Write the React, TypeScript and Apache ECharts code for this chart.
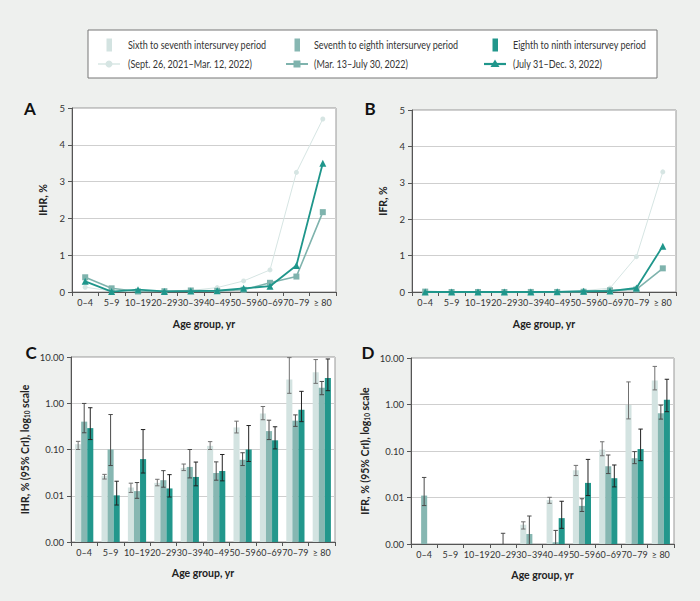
import React, { useEffect, useRef } from "react";
import * as echarts from "echarts";

const ageGroups = ["0–4", "5–9", "10–19", "20–29", "30–39", "40–49", "50–59", "60–69", "70–79", "≥ 80"];
const periodNames = [
  "Sixth to seventh intersurvey period",
  "Seventh to eighth intersurvey period",
  "Eighth to ninth intersurvey period",
];
const periodDates = [
  "(Sept. 26, 2021–Mar. 12, 2022)",
  "(Mar. 13–July 30, 2022)",
  "(July 31–Dec. 3, 2022)",
];
const linearTicks = [0, 1, 2, 3, 4, 5];
const logMin = 0.001;
const logMax = 10;

// IHR, % (point estimates and 95% CrI)
const ihr6 = [0.13, 0.027, 0.015, 0.019, 0.04, 0.12, 0.3, 0.6, 3.25, 4.7];
const ihr6Lo = [0.1, 0.023, 0.0118, 0.0164, 0.035, 0.1, 0.228, 0.44, 1.64, 2.69];
const ihr6Hi = [0.15, 0.029, 0.0187, 0.0227, 0.0485, 0.148, 0.41, 0.85, 9.7, 8.8];
const ihr7 = [0.4, 0.1, 0.0126, 0.0217, 0.042, 0.031, 0.06, 0.25, 0.42, 2.17];
const ihr7Lo = [0.23, 0.045, 0.0088, 0.0153, 0.0243, 0.0217, 0.045, 0.164, 0.316, 1.53];
const ihr7Hi = [0.99, 0.57, 0.0193, 0.0349, 0.1, 0.054, 0.085, 0.43, 0.56, 2.96];
const ihr8 = [0.29, 0.0102, 0.062, 0.0144, 0.0255, 0.0343, 0.1, 0.158, 0.72, 3.5];
const ihr8Lo = [0.164, 0.0063, 0.031, 0.0094, 0.0164, 0.021, 0.055, 0.103, 0.4, 1.87];
const ihr8Hi = [0.8, 0.0206, 0.27, 0.0286, 0.0535, 0.078, 0.33, 0.31, 1.81, 9.06];

// IFR, % (point estimates and 95% CrI); null = no estimate shown
const ifr6 = [0, 0, 0, 0, 0.0026, 0.0088, 0.0385, 0.107, 0.97, 3.3];
const ifr6Lo = [null, null, null, null, 0.0021, 0.0075, 0.0296, 0.079, 0.49, 2.06];
const ifr6Hi = [null, null, null, null, 0.003, 0.0101, 0.049, 0.158, 3.06, 6.6];
const ifr7 = [0.011, 0, 0, 0.0005, 0.00164, 0.00109, 0.0066, 0.047, 0.07, 0.65];
const ifr7Lo = [0.0067, null, null, 0.0001, 0.0005, 0.0005, 0.005, 0.0327, 0.0535, 0.485];
const ifr7Hi = [0.027, null, null, 0.0017, 0.004, 0.00196, 0.0094, 0.082, 0.097, 0.97];
const ifr8 = [0, 0, 0, 0, 0, 0.0036, 0.0206, 0.026, 0.11, 1.26];
const ifr8Lo = [null, null, null, null, null, 0.00217, 0.011, 0.0169, 0.062, 0.7];
const ifr8Hi = [null, null, null, null, null, 0.0083, 0.066, 0.05, 0.296, 3.49];

const barColors = ["#d3e3e1", "#87b7b2", "#22978c"];
const lineColors = ["#d6e5e3", "#7fb3ad", "#1f968b"];
const errColors = ["#707070", "#4a4a4a", "#222222"];
const symbols = ["circle", "rect", "triangle"];
const symbolSizes = [5, 6, 7];
const lineWidths = [1, 1.6, 1.8];

const FONT = "Lato";

function buildRows(v: (number | null)[], lo: (number | null)[], hi: (number | null)[]) {
  const rows: number[][] = [];
  v.forEach((val, i) => {
    if (lo[i] == null || hi[i] == null || val == null) return;
    rows.push([i, val, lo[i] as number, hi[i] as number]);
  });
  return rows;
}

function makeRender(k: number) {
  return (params: any, api: any) => {
    const ci = api.value(0);
    const clamp = (x: number) => Math.min(Math.max(x, logMin), logMax);
    const v = clamp(api.value(1));
    const lo = clamp(api.value(2));
    const hi = clamp(api.value(3));
    const bw = api.size([1, 1], [ci, 1])[0];
    const w = bw * 0.23;
    const base = api.coord([ci, logMin]);
    const top = api.coord([ci, v]);
    const cx = base[0] + (k - 1) * w;
    const yLo = api.coord([ci, lo])[1];
    const yHi = api.coord([ci, hi])[1];
    const children: any[] = [];
    if (base[1] - top[1] > 0.3) {
      children.push({
        type: "rect",
        shape: { x: cx - w / 2, y: top[1], width: w, height: base[1] - top[1] },
        style: { fill: barColors[k] },
      });
    }
    const st = { stroke: errColors[k], lineWidth: 1 };
    children.push({ type: "line", shape: { x1: cx, y1: yLo, x2: cx, y2: yHi }, style: st });
    children.push({ type: "line", shape: { x1: cx - 2.2, y1: yHi, x2: cx + 2.2, y2: yHi }, style: st });
    if (lo > logMin) {
      children.push({ type: "line", shape: { x1: cx - 2.2, y1: yLo, x2: cx + 2.2, y2: yLo }, style: st });
    }
    return { type: "group", children };
  };
}

export default function App() {
  const ref = useRef<HTMLDivElement>(null);
  useEffect(() => {
    if (!ref.current) return;
    const chart = echarts.init(ref.current, null, { renderer: "svg" });

    const gridBase = { show: true, backgroundColor: "#ffffff", borderColor: "#999", borderWidth: 1 };
    const grids = [
      { ...gridBase, left: 72, top: 108, width: 264, height: 184 },
      { ...gridBase, left: 412, top: 110, width: 264, height: 182 },
      { ...gridBase, left: 71, top: 357, width: 264, height: 185 },
      { ...gridBase, left: 411, top: 358, width: 263, height: 186 },
    ];

    const xAxis = grids.map((g, i) => ({
      type: "category",
      gridIndex: i,
      data: ageGroups,
      axisLine: { lineStyle: { color: "#555", width: 1 } },
      axisTick: { show: true, length: 4, lineStyle: { color: "#555" } },
      axisLabel: { interval: 0, fontSize: 9, color: "#333", margin: 6, fontFamily: FONT },
      name: "Age group, yr",
      nameLocation: "middle",
      nameGap: i < 2 ? 26 : 25,
      nameTextStyle: { fontWeight: "bold", fontSize: 10.5, color: "#222", fontFamily: FONT },
    }));

    const linY = (name: string, gi: number) => ({
      type: "value",
      gridIndex: gi,
      min: linearTicks[0],
      max: linearTicks[linearTicks.length - 1],
      interval: 1,
      axisLine: { show: true, lineStyle: { color: "#555" } },
      axisTick: { show: true, length: 4, lineStyle: { color: "#555" } },
      splitLine: { lineStyle: { color: "#cfcfcf" } },
      axisLabel: { fontSize: 9.5, color: "#333", margin: 7, fontFamily: FONT },
      name,
      nameLocation: "middle",
      nameGap: 24,
      nameRotate: 90,
      nameTextStyle: { fontWeight: "bold", fontSize: 10.5, color: "#222", fontFamily: FONT },
    });

    const logY = (prefix: string, gi: number) => ({
      type: "log",
      logBase: 10,
      gridIndex: gi,
      min: logMin,
      max: logMax,
      axisLine: { show: true, lineStyle: { color: "#555" } },
      axisTick: { show: true, length: 4, lineStyle: { color: "#555" } },
      splitLine: { lineStyle: { color: "#cfcfcf" } },
      minorTick: { show: false },
      axisLabel: {
        fontSize: 9.5,
        color: "#333",
        margin: 7,
        fontFamily: FONT,
        formatter: (v: number) => v.toFixed(2),
      },
      name: prefix + ", % (95% CrI), log{sub|10} scale",
      nameLocation: "middle",
      nameGap: 40,
      nameRotate: 90,
      nameTextStyle: {
        fontWeight: "bold",
        fontSize: 10.5,
        color: "#222",
        fontFamily: FONT,
        rich: {
          sub: { fontSize: 6.5, fontWeight: "bold", color: "#222", fontFamily: FONT, verticalAlign: "bottom", padding: [5, 0, 0, 0] },
        },
      },
    });

    const yAxis = [linY("IHR, %", 0), linY("IFR, %", 1), logY("IHR", 2), logY("IFR", 3)];

    const lineSeries = (data: number[], k: number, gi: number) => ({
      type: "line",
      xAxisIndex: gi,
      yAxisIndex: gi,
      data,
      symbol: symbols[k],
      symbolSize: symbolSizes[k],
      showSymbol: true,
      lineStyle: { color: lineColors[k], width: lineWidths[k] },
      itemStyle: { color: lineColors[k] },
      z: 3 + k,
    });

    const customSeries = (rows: number[][], k: number, gi: number) => ({
      type: "custom",
      xAxisIndex: gi,
      yAxisIndex: gi,
      data: rows,
      encode: { x: 0, y: 1 },
      renderItem: makeRender(k),
      z: 3,
    });

    const series = [
      lineSeries(ihr6, 0, 0),
      lineSeries(ihr7, 1, 0),
      lineSeries(ihr8, 2, 0),
      lineSeries(ifr6, 0, 1),
      lineSeries(ifr7, 1, 1),
      lineSeries(ifr8, 2, 1),
      customSeries(buildRows(ihr6, ihr6Lo, ihr6Hi), 0, 2),
      customSeries(buildRows(ihr7, ihr7Lo, ihr7Hi), 1, 2),
      customSeries(buildRows(ihr8, ihr8Lo, ihr8Hi), 2, 2),
      customSeries(buildRows(ifr6, ifr6Lo, ifr6Hi), 0, 3),
      customSeries(buildRows(ifr7, ifr7Lo, ifr7Hi), 1, 3),
      customSeries(buildRows(ifr8, ifr8Lo, ifr8Hi), 2, 3),
    ];

    // Legend (custom, two rows per period)
    const legendX = [109, 297, 495];
    const textX = [128, 314, 513];
    const row1 = 45;
    const row2 = 64;
    const legend: any[] = [
      {
        type: "rect",
        shape: { x: 88, y: 30, width: 569, height: 48 },
        style: { fill: "#ffffff", stroke: "#777", lineWidth: 1 },
        z: 1,
      },
    ];
    [0, 1, 2].forEach((k) => {
      const cx = legendX[k];
      legend.push({
        type: "rect",
        shape: { x: cx - 2.5, y: row1 - 6.5, width: 5.5, height: 13 },
        style: { fill: barColors[k] },
        z: 2,
      });
      legend.push({
        type: "line",
        shape: { x1: cx - 11, y1: row2, x2: cx + 11, y2: row2 },
        style: { stroke: lineColors[k], lineWidth: lineWidths[k] + 0.4 },
        z: 2,
      });
      if (k === 0) {
        legend.push({ type: "circle", shape: { cx, cy: row2, r: 3.5 }, style: { fill: lineColors[k] }, z: 3 });
      } else if (k === 1) {
        legend.push({ type: "rect", shape: { x: cx - 3.5, y: row2 - 3.5, width: 7, height: 7 }, style: { fill: lineColors[k] }, z: 3 });
      } else {
        legend.push({
          type: "polygon",
          shape: { points: [[cx - 4.5, row2 + 3], [cx + 4.5, row2 + 3], [cx, row2 - 4.5]] },
          style: { fill: lineColors[k] },
          z: 3,
        });
      }
      legend.push({
        type: "text",
        x: textX[k],
        y: row1,
        scaleX: 0.86,
        style: { text: periodNames[k], fill: "#333", fontSize: 10.5, fontFamily: FONT, verticalAlign: "middle" },
        z: 3,
      });
      legend.push({
        type: "text",
        x: textX[k],
        y: row2,
        scaleX: 0.86,
        style: { text: periodDates[k], fill: "#333", fontSize: 10.5, fontFamily: FONT, verticalAlign: "middle" },
        z: 3,
      });
    });

    const letters = [
      { t: "A", x: 30, y: 108 },
      { t: "B", x: 370, y: 108 },
      { t: "C", x: 31, y: 352 },
      { t: "D", x: 368, y: 352 },
    ].map((l) => ({
      type: "text",
      x: l.x,
      y: l.y,
      style: {
        text: l.t,
        fill: "#111",
        fontSize: 17,
        fontWeight: "bold",
        fontFamily: FONT,
        align: "center",
        verticalAlign: "middle",
      },
    }));

    chart.setOption({
      animation: false,
      backgroundColor: "#eef0ee",
      textStyle: { fontFamily: FONT },
      grid: grids,
      xAxis,
      yAxis,
      series,
      graphic: [...legend, ...letters],
    });

    return () => chart.dispose();
  }, []);

  return (
    <div
      ref={ref}
      style={{ position: "fixed", left: 0, top: 0, width: 700, height: 601 }}
    />
  );
}
